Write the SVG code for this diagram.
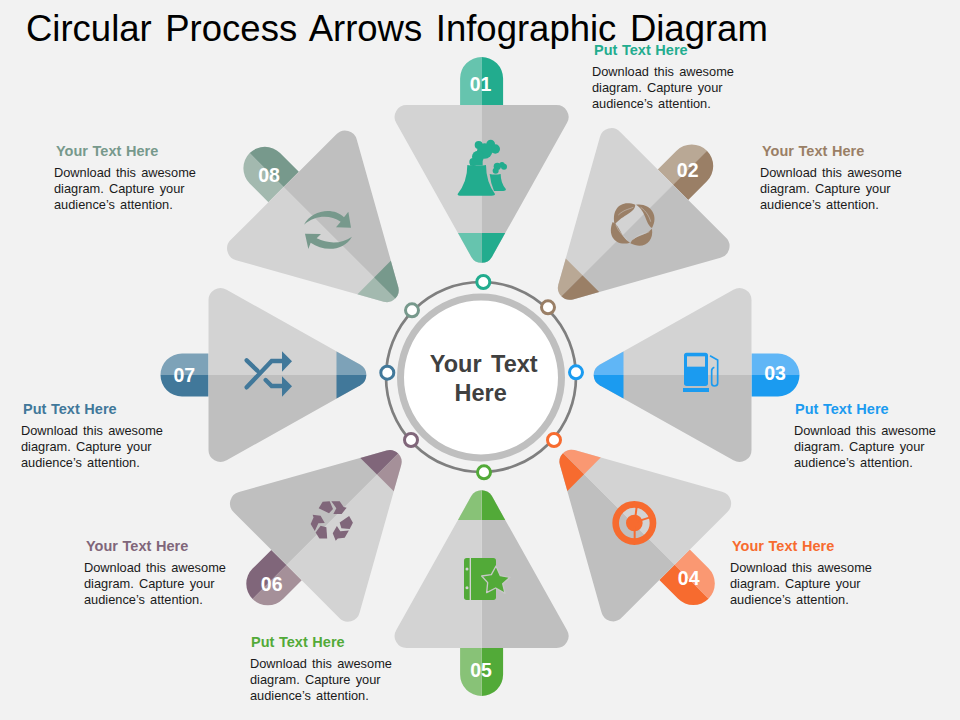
<svg xmlns="http://www.w3.org/2000/svg" width="960" height="720" viewBox="0 0 960 720">
<style>
text{font-family:"Liberation Sans",Arial,sans-serif}
.title{font-size:36.5px;word-spacing:3.4px;fill:#000}
.h{font-size:14.5px;font-weight:700;word-spacing:.6px;fill:var(--d)}
.b{font-size:12.8px;word-spacing:1.6px;fill:#1a1a1a}
.n{font-size:19.5px;font-weight:700;fill:#fff;text-anchor:middle}
.c{font-size:23.5px;font-weight:700;fill:#404040;text-anchor:middle;word-spacing:3px}
.i{fill:var(--d)}
.lt{fill:var(--l)}.dk{fill:var(--d)}.tl{fill:#d3d3d3}.td{fill:#bfbfbf}
.dot{fill:#fff;stroke-width:3}
</style>
<defs>
<path id="tri" d="M0,-271.5L-74.7,-271.5A12,12 0 0 0 -85.3,-253.4L-10.3,-119.6A12,12 0 0 0 0,-113.7Z"/>
<path id="band" d="M0,-143.5L-23.6,-143.5L-10.3,-119.6A12,12 0 0 0 0,-113.7Z"/>
<path id="tab" d="M0,-271.5L-21.5,-271.5L-21.5,-298A21.5,21.5 0 0 1 0,-319.5Z"/>
<g id="petal">
<use href="#tab" class="lt"/><use href="#tri" class="tl"/><use href="#band" class="lt"/>
<g transform="scale(-1 1)"><use href="#tab" class="dk"/><use href="#tri" class="td"/><use href="#band" class="dk"/></g>
</g>
<g id="petalm">
<use href="#tab" class="dk"/><use href="#tri" class="td"/><use href="#band" class="dk"/>
<g transform="scale(-1 1)"><use href="#tab" class="lt"/><use href="#tri" class="tl"/><use href="#band" class="lt"/></g>
</g>
</defs>
<rect width="960" height="720" fill="#f2f2f2"/>
<text class="title" x="26" y="41">Circular Process Arrows Infographic Diagram</text>

<g id="connectors">
<circle cx="481" cy="377" r="95" fill="none" stroke="#7f7f7f" stroke-width="2.7"/>
<circle cx="483.3" cy="282" r="6.5" class="dot" stroke="#22ac8e"/>
<circle cx="548" cy="307.3" r="6.5" class="dot" stroke="#9a7f66"/>
<circle cx="576" cy="372.3" r="6.5" class="dot" stroke="#1b9bf0"/>
<circle cx="554" cy="440" r="6.5" class="dot" stroke="#f76b2f"/>
<circle cx="484" cy="472.3" r="6.5" class="dot" stroke="#52aa38"/>
<circle cx="411" cy="440" r="6.5" class="dot" stroke="#80667a"/>
<circle cx="387.3" cy="372.7" r="6.5" class="dot" stroke="#41789a"/>
<circle cx="412" cy="310.3" r="6.5" class="dot" stroke="#77998c"/>
</g>

<g id="center">
<circle cx="481" cy="377.5" r="80.5" fill="#fff" stroke="#bfbfbf" stroke-width="7"/>
<text class="c" x="483.7" y="372">Your Text</text>
<text class="c" x="480.7" y="401">Here</text>
</g>

<g id="node-01" style="--d:#22ac8e;--l:#66c4ae">
<use href="#petal" transform="translate(481.6 376.5)"/>
<text class="n" x="480.5" y="91">01</text>
<g class="i" transform="translate(380 50) scale(.33333)">
<path d="M262,345Q290,350 318,345Q318,395 345,432Q345,437 335,437H240Q232,437 233,432Q262,395 262,345Z"/>
<path d="M329,372Q345,375 362,372Q362,400 378,418Q378,423 370,423H342Q332,400 329,372Z"/>
<circle cx="296" cy="285" r="12"/><circle cx="332" cy="282" r="13"/><circle cx="346" cy="297" r="14"/><circle cx="314" cy="303" r="23"/><circle cx="294" cy="320" r="18"/><circle cx="280" cy="336" r="12"/><rect x="270" y="330" width="38" height="17"/>
<circle cx="352" cy="349" r="11"/><circle cx="366" cy="344" r="8"/><circle cx="372" cy="350" r="9"/><circle cx="347" cy="362" r="9"/>
</g>
<text class="h" x="594" y="55">Put Text Here</text>
<text class="b"><tspan x="592" y="76">Download this awesome</tspan><tspan x="592" y="92">diagram. Capture your</tspan><tspan x="592" y="108">audience’s attention.</tspan></text>
</g>

<g id="node-02" style="--d:#9a7f66;--l:#b9a895">
<use href="#petal" transform="translate(481 376.7) rotate(45)"/>
<text class="n" x="687.7" y="176.5">02</text>
<g class="i" transform="translate(550 120) scale(.33333)">
<path d="M194,314C184,270 210,238 256,254C254,280 220,282 194,314Z"/>
<path d="M258,254C300,248 328,285 306,324C285,310 290,275 258,254Z"/>
<path d="M306,326C312,366 280,390 241,370C250,345 285,350 306,326Z"/>
<path d="M240,368C200,380 170,350 188,306C212,318 210,350 240,368Z"/>
<g fill="none" stroke="#d3d3d3" stroke-width="1.5"><path d="M205,285C220,270 235,268 250,262"/><path d="M272,262C290,275 298,290 302,305"/><path d="M250,358C270,340 285,342 298,335"/><path d="M198,315C205,335 222,350 232,360"/></g>
</g>
<text class="h" x="762" y="156">Your Text Here</text>
<text class="b"><tspan x="760" y="177">Download this awesome</tspan><tspan x="760" y="193">diagram. Capture your</tspan><tspan x="760" y="209">audience’s attention.</tspan></text>
</g>

<g id="node-03" style="--d:#1b9bf0;--l:#60b6f6">
<use href="#petal" transform="translate(480 375) rotate(90)"/>
<text class="n" x="775" y="380">03</text>
<g class="i" transform="translate(590 280) scale(.33333)">
<rect x="282" y="218" width="72" height="100" rx="8"/>
<rect x="291" y="229" width="54" height="31" fill="#cfcfcf"/>
<rect x="279" y="324" width="78" height="12"/>
<path d="M360,227L383,240V265M383,250V310Q383,318 373,318Q365,318 365,310V272Q365,265 373,262" fill="none" stroke="#1b9bf0" stroke-width="5"/>
</g>
<text class="h" x="795" y="414">Put Text Here</text>
<text class="b"><tspan x="794" y="435">Download this awesome</tspan><tspan x="794" y="451">diagram. Capture your</tspan><tspan x="794" y="467">audience’s attention.</tspan></text>
</g>

<g id="node-04" style="--d:#f76b2f;--l:#fa9872">
<use href="#petal" transform="translate(482.6 372.8) rotate(135)"/>
<text class="n" x="688.7" y="585">04</text>
<g class="i" transform="translate(550 440) scale(.33333)">
<circle cx="253" cy="249" r="56" fill="none" stroke="#f76b2f" stroke-width="20"/>
<circle cx="253" cy="249" r="25"/>
<path d="M260,200L255,240M300,232L260,245M254,260V300" fill="none" stroke="#f76b2f" stroke-width="6"/>
</g>
<text class="h" x="732" y="551">Your Text Here</text>
<text class="b"><tspan x="730" y="572">Download this awesome</tspan><tspan x="730" y="588">diagram. Capture your</tspan><tspan x="730" y="604">audience’s attention.</tspan></text>
</g>

<g id="node-05" style="--d:#52aa38;--l:#88c277">
<use href="#petalm" transform="translate(481.6 376.5) rotate(180)"/>
<text class="n" x="481" y="677">05</text>
<g class="i" transform="translate(380 480) scale(.33333)">
<rect x="252" y="234" width="96" height="126" rx="8"/>
<path d="M271,234V360" stroke="#d3d3d3" stroke-width="4"/>
<circle cx="261" cy="267" r="4.5" fill="#d3d3d3"/><circle cx="261" cy="323" r="4.5" fill="#d3d3d3"/>
<path d="M348,258L361,287L390,292L368,311L375,340L347,324L320,338L323,308L305,288L334,284Z" stroke="#c8c8c8" stroke-width="4" stroke-linejoin="round"/>
</g>
<text class="h" x="251" y="647">Put Text Here</text>
<text class="b"><tspan x="250" y="668">Download this awesome</tspan><tspan x="250" y="684">diagram. Capture your</tspan><tspan x="250" y="700">audience’s attention.</tspan></text>
</g>

<g id="node-06" style="--d:#80667a;--l:#a59099">
<use href="#petal" transform="translate(478.5 373.1) rotate(225)"/>
<text class="n" x="271.7" y="591">06</text>
<g class="i" transform="translate(220 440) scale(.33333)">
<g transform="translate(335 243)">
<g><path d="M-39,-38L-27,-58L-6,-59L4,-36L-8,-23Z"/><path d="M-1,-59L24,-59L36,-42L45,-40L30,-21L5,-21L14,-38Z"/></g>
<g transform="rotate(120)"><path d="M-39,-38L-27,-58L-6,-59L4,-36L-8,-23Z"/><path d="M-1,-59L24,-59L36,-42L45,-40L30,-21L5,-21L14,-38Z"/></g>
<g transform="rotate(240)"><path d="M-39,-38L-27,-58L-6,-59L4,-36L-8,-23Z"/><path d="M-1,-59L24,-59L36,-42L45,-40L30,-21L5,-21L14,-38Z"/></g>
</g>
</g>
<text class="h" x="86" y="551">Your Text Here</text>
<text class="b"><tspan x="84" y="572">Download this awesome</tspan><tspan x="84" y="588">diagram. Capture your</tspan><tspan x="84" y="604">audience’s attention.</tspan></text>
</g>

<g id="node-07" style="--d:#41789a;--l:#7da2b8">
<use href="#petalm" transform="translate(480 375) rotate(270)"/>
<text class="n" x="184.3" y="382">07</text>
<g class="i" transform="translate(150 280) scale(.33333)">
<path d="M290,322L365,243H398M290,241L322,272M347,300L365,318H398" fill="none" stroke="#41789a" stroke-width="13" stroke-linecap="round"/>
<path d="M396,214L426,244L396,275Z"/><path d="M396,289L426,319L396,350Z"/>
</g>
<text class="h" x="23" y="414">Put Text Here</text>
<text class="b"><tspan x="21" y="435">Download this awesome</tspan><tspan x="21" y="451">diagram. Capture your</tspan><tspan x="21" y="467">audience’s attention.</tspan></text>
</g>

<g id="node-08" style="--d:#77998c;--l:#a3b9af">
<use href="#petal" transform="translate(475.6 379) rotate(315)"/>
<text class="n" x="269" y="182">08</text>
<g class="i" transform="translate(220 120) scale(.33333)">
<path d="M252,314C275,270 340,260 372,292L385,275L393,323L348,322L362,305C330,283 285,285 252,314Z"/>
<path d="M396,350C370,395 310,395 272,368L265,387L255,341L303,342L290,355C325,372 365,372 396,350Z"/>
</g>
<text class="h" x="56" y="156">Your Text Here</text>
<text class="b"><tspan x="54" y="177">Download this awesome</tspan><tspan x="54" y="193">diagram. Capture your</tspan><tspan x="54" y="209">audience’s attention.</tspan></text>
</g>
</svg>
